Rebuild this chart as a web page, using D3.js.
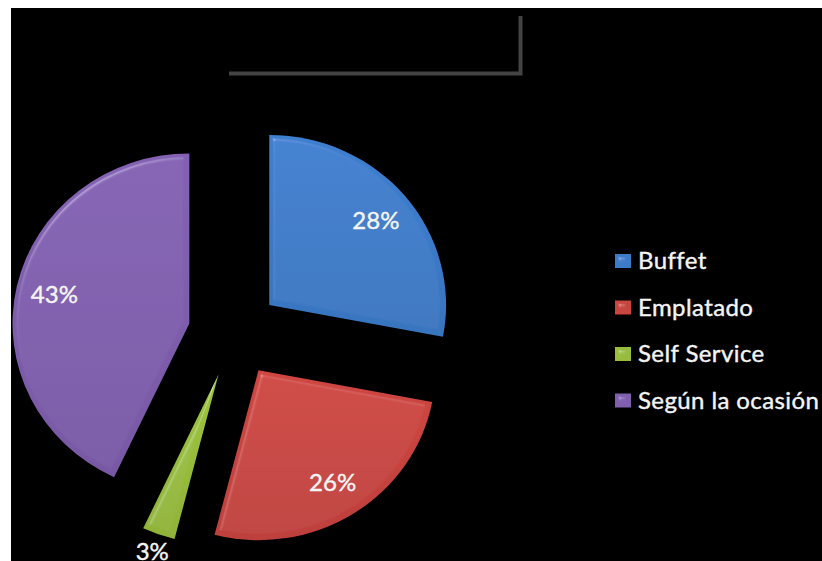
<!DOCTYPE html>
<html>
<head>
<meta charset="utf-8">
<script src="https://cdn.jsdelivr.net/npm/d3@7/dist/d3.min.js"></script>
<style>
  html, body { margin: 0; padding: 0; background: #fff; }
  svg { display: block; }
</style>
</head>
<body>
<svg id="chart" width="822" height="561"></svg>
<script>
// Preferred service style
const categories = ["Buffet", "Emplatado", "Self Service", "Según la ocasión"];
const values = [28, 26, 3, 43];
const labels = ["28%", "26%", "3%", "43%"];
const colors = ["#3b7bc9", "#c8443f", "#98bd3c", "#7f5eae"];

const W = 822, H = 561;
const svg = d3.select("#chart");

// page frame: white margin top and left, black chart area
svg.append("rect").attr("x", 0).attr("y", 0).attr("width", W).attr("height", H).attr("fill", "#fff");
svg.append("rect").attr("x", 11).attr("y", 8).attr("width", W - 11).attr("height", H - 8).attr("fill", "#000");

const defs = svg.append("defs");

// soft bevel for the slices and legend keys
const bevel = defs.append("filter").attr("id", "bevel")
  .attr("x", "-5%").attr("y", "-5%").attr("width", "110%").attr("height", "110%");
bevel.append("feGaussianBlur").attr("in", "SourceAlpha").attr("stdDeviation", 2.5).attr("result", "blur");
const spec = bevel.append("feSpecularLighting").attr("in", "blur")
  .attr("surfaceScale", 4).attr("specularConstant", 0.6).attr("specularExponent", 45)
  .attr("lighting-color", "#ffffff").attr("result", "spec");
spec.append("feDistantLight").attr("azimuth", 235).attr("elevation", 50);
bevel.append("feComposite").attr("in", "spec").attr("in2", "SourceAlpha").attr("operator", "in").attr("result", "specIn");
bevel.append("feComposite").attr("in", "SourceGraphic").attr("in2", "specIn")
  .attr("operator", "arithmetic").attr("k1", 0).attr("k2", 1).attr("k3", 0.35).attr("k4", 0);

// vertical shading per colour
colors.forEach((c, i) => {
  const g = defs.append("linearGradient").attr("id", "shade" + i)
    .attr("x1", 0).attr("y1", 0).attr("x2", 0).attr("y2", 1);
  g.append("stop").attr("offset", "0%").attr("stop-color", d3.color(c).brighter(0.1));
  g.append("stop").attr("offset", "100%").attr("stop-color", d3.color(c).darker(0.15));
});

// title box shadow
svg.append("path")
  .attr("d", "M229,73.5 H520.5 V16")
  .attr("fill", "none").attr("stroke", "#434343").attr("stroke-width", 4);

// exploded pie
const cx = 234, cy = 333, R = 170, sx = 1.04, explode = 44;
const pie = d3.pie().value(d => d).sort(null);
const arcs = pie(values);
const arc = d3.arc().innerRadius(0).outerRadius(R);

const pieG = svg.append("g").attr("transform", `translate(${cx},${cy}) scale(${sx},1)`);
pieG.selectAll("path.slice")
  .data(arcs)
  .join("path")
  .attr("class", "slice")
  .attr("transform", d => {
    const m = (d.startAngle + d.endAngle) / 2;
    return `translate(${explode * Math.sin(m)},${-explode * Math.cos(m)})`;
  })
  .attr("d", arc)
  .attr("fill", (d, i) => `url(#shade${i})`)
  .attr("filter", "url(#bevel)");

// percentage labels
const font = "Lato, 'Open Sans', sans-serif";
const labelRadius = d => (d.endAngle - d.startAngle) < 0.3 ? 188 : 133;
svg.selectAll("text.pct")
  .data(arcs)
  .join("text")
  .attr("class", "pct")
  .attr("x", d => {
    const m = (d.startAngle + d.endAngle) / 2;
    return cx + sx * (explode + labelRadius(d)) * Math.sin(m);
  })
  .attr("y", d => {
    const m = (d.startAngle + d.endAngle) / 2;
    return cy - (explode + labelRadius(d)) * Math.cos(m) + 9;
  })
  .attr("text-anchor", "middle")
  .attr("fill", "#f4f4f4")
  .attr("stroke", "#f4f4f4").attr("stroke-width", 0.4)
  .attr("font-family", font)
  .attr("font-size", 24)
  .text((d, i) => labels[i]);

// legend
const legY = d3.scalePoint().domain(categories).range([269, 408.5]);
const leg = svg.append("g");
const items = leg.selectAll("g.item").data(categories).join("g").attr("class", "item")
  .attr("transform", d => `translate(615,${legY(d)})`);
items.append("rect")
  .attr("x", 0).attr("y", -15).attr("width", 16).attr("height", 14)
  .attr("fill", (d, i) => colors[i])
  .attr("filter", "url(#bevel)");
items.append("text")
  .attr("x", 23).attr("y", 0)
  .attr("fill", "#f4f4f4")
  .attr("stroke", "#f4f4f4").attr("stroke-width", 0.4)
  .attr("font-family", font)
  .attr("font-size", 24)
  .attr("letter-spacing", 0.4)
  .text(d => d);
</script>
</body>
</html>
